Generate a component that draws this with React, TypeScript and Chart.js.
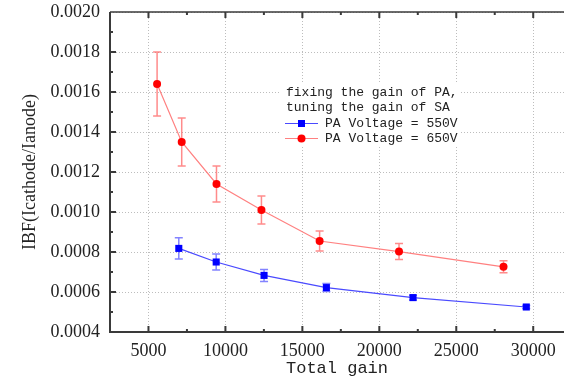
import React, { useEffect, useRef } from 'react';
import { Chart, registerables } from 'chart.js';

Chart.register(...registerables);

// ---- data ----
const blueGain = [6970, 9400, 12510, 16560, 22190, 29550];
const blueIBF = [0.000818, 0.00075, 0.000683, 0.000622, 0.000572, 0.000525];
const blueErr = [0.000053, 0.00004, 0.00003, 0.00002, 0.000012, 0.000008];

const redGain = [5560, 7160, 9420, 12340, 16120, 21280, 28070];
const redIBF = [0.00164, 0.00135, 0.00114, 0.00101, 0.000855, 0.000802, 0.000726];
const redErr = [0.00016, 0.00012, 0.00009, 0.00007, 0.00005, 0.00004, 0.00003];

const xTicks = [5000, 10000, 15000, 20000, 25000, 30000];
const xMinor = [2500, 7500, 12500, 17500, 22500, 27500];
const yTicks = [0.0004, 0.0006, 0.0008, 0.001, 0.0012, 0.0014, 0.0016, 0.0018, 0.002];
const yMinor = [0.0005, 0.0007, 0.0009, 0.0011, 0.0013, 0.0015, 0.0017, 0.0019];

const legendTitle = ['fixing the gain of PA,', 'tuning the gain of SA'];
const seriesNames = ['PA Voltage = 550V', 'PA Voltage = 650V'];
const xTitle = 'Total gain';
const yTitle = 'IBF(Icathode/Ianode)';

const BLUE = '#0000ff';
const BLUE_LINE = '#4a4aff';
const BLUE_ERR = 'rgba(90,90,255,0.75)';
const RED = '#ff0000';
const RED_LINE = '#ff8080';
const RED_ERR = 'rgba(255,90,90,0.7)';
const MONO = '"Liberation Mono", monospace';
const SERIF = '"Liberation Serif", serif';

const gridPlugin = {
  id: 'gridErr',
  beforeDatasetsDraw(chart: any) {
    const { ctx, chartArea: a, scales } = chart;
    const x = scales.x;
    const y = scales.y;
    ctx.save();
    ctx.strokeStyle = '#bdbdbd';
    ctx.lineWidth = 1;
    ctx.setLineDash([1, 2]);
    // keep grid out of the legend box
    ctx.beginPath();
    ctx.rect(0, 0, chart.width, chart.height);
    ctx.rect(461, 82, -181, 64);
    ctx.clip('evenodd');
    for (const v of xTicks) {
      const px = Math.round(x.getPixelForValue(v)) + 0.5;
      ctx.beginPath();
      ctx.moveTo(px, a.top);
      ctx.lineTo(px, a.bottom);
      ctx.stroke();
    }
    for (const v of yTicks) {
      const py = Math.round(y.getPixelForValue(v)) + 0.5;
      ctx.beginPath();
      ctx.moveTo(a.left, py);
      ctx.lineTo(a.right, py);
      ctx.stroke();
    }
    ctx.restore();

    // error bars
    const sets = [
      { g: blueGain, v: blueIBF, e: blueErr, c: BLUE_ERR },
      { g: redGain, v: redIBF, e: redErr, c: RED_ERR },
    ];
    ctx.save();
    ctx.lineWidth = 1.5;
    for (const s of sets) {
      ctx.strokeStyle = s.c;
      for (let i = 0; i < s.g.length; i++) {
        const px = x.getPixelForValue(s.g[i]);
        const t = y.getPixelForValue(s.v[i] + s.e[i]);
        const b = y.getPixelForValue(s.v[i] - s.e[i]);
        ctx.beginPath();
        ctx.moveTo(px, t);
        ctx.lineTo(px, b);
        ctx.moveTo(px - 4, t);
        ctx.lineTo(px + 4, t);
        ctx.moveTo(px - 4, b);
        ctx.lineTo(px + 4, b);
        ctx.stroke();
      }
    }
    ctx.restore();
  },
  afterDraw(chart: any) {
    const { ctx, chartArea: a, scales } = chart;
    const x = scales.x;
    const y = scales.y;
    ctx.save();
    ctx.strokeStyle = '#3a3a3a';
    ctx.lineWidth = 2;
    ctx.beginPath();
    ctx.moveTo(a.left, a.top);
    ctx.lineTo(a.left, a.bottom);
    ctx.lineTo(a.right, a.bottom);
    ctx.stroke();
    ctx.lineWidth = 1.5;
    ctx.beginPath();
    ctx.moveTo(a.left, a.top);
    ctx.lineTo(a.right, a.top);
    ctx.stroke();
    ctx.lineWidth = 2;
    const tick = (vals: number[], len: number) => {
      for (const v of vals) {
        const px = x.getPixelForValue(v);
        if (px <= a.left + 1 || px >= a.right) continue;
        ctx.beginPath();
        ctx.moveTo(px, a.bottom);
        ctx.lineTo(px, a.bottom - len);
        ctx.moveTo(px, a.top);
        ctx.lineTo(px, a.top + len);
        ctx.stroke();
      }
    };
    tick(xTicks, 6);
    tick(xMinor, 3);
    const ytick = (vals: number[], len: number) => {
      for (const v of vals) {
        const py = y.getPixelForValue(v);
        if (py >= a.bottom - 1 || py <= a.top + 1) continue;
        ctx.beginPath();
        ctx.moveTo(a.left, py);
        ctx.lineTo(a.left + len, py);
        ctx.stroke();
      }
    };
    ytick(yTicks, 6);
    ytick(yMinor, 3);
    ctx.restore();

    // legend
    ctx.save();
    ctx.fillStyle = '#ffffff';
    ctx.fillRect(280, 82, 181, 64);
    ctx.fillStyle = '#222';
    ctx.font = '13px ' + MONO;
    ctx.textBaseline = 'middle';
    ctx.textAlign = 'left';
    ctx.fillText(legendTitle[0], 286, 93);
    ctx.fillText(legendTitle[1], 286, 108);
    const rows = [
      { yy: 123, line: BLUE_LINE, c: BLUE, shape: 'rect' },
      { yy: 138, line: RED_LINE, c: RED, shape: 'circle' },
    ];
    rows.forEach((r, i) => {
      ctx.strokeStyle = r.line;
      ctx.lineWidth = 1;
      ctx.beginPath();
      ctx.moveTo(285, r.yy + 0.5);
      ctx.lineTo(318, r.yy + 0.5);
      ctx.stroke();
      ctx.fillStyle = r.c;
      if (r.shape === 'rect') {
        ctx.fillRect(298, r.yy - 3, 7, 7);
      } else {
        ctx.beginPath();
        ctx.arc(301.5, r.yy + 0.5, 4, 0, Math.PI * 2);
        ctx.fill();
      }
      ctx.fillStyle = '#222';
      ctx.fillText(seriesNames[i], 325, r.yy + 1);
    });
    ctx.restore();
  },
};

export default function App() {
  const ref = useRef<HTMLCanvasElement | null>(null);
  useEffect(() => {
    if (!ref.current) return;
    const chart = new Chart(ref.current, {
      type: 'scatter',
      data: {
        datasets: [
          {
            label: seriesNames[0],
            data: blueGain.map((g, i) => ({ x: g, y: blueIBF[i] })),
            showLine: true,
            borderColor: BLUE_LINE,
            borderWidth: 1.2,
            backgroundColor: BLUE,
            pointBackgroundColor: BLUE,
            pointBorderWidth: 0,
            pointStyle: 'rect',
            pointRadius: 5,
          },
          {
            label: seriesNames[1],
            data: redGain.map((g, i) => ({ x: g, y: redIBF[i] })),
            showLine: true,
            borderColor: RED_LINE,
            borderWidth: 1.2,
            backgroundColor: RED,
            pointBackgroundColor: RED,
            pointBorderWidth: 0,
            pointStyle: 'circle',
            pointRadius: 4,
          },
        ],
      },
      options: {
        animation: false,
        responsive: false,
        layout: { autoPadding: false, padding: { top: 12, left: 0, right: 0, bottom: 0 } },
        plugins: { legend: { display: false }, tooltip: { enabled: false } },
        scales: {
          x: {
            type: 'linear',
            min: 2500,
            max: 32000,
            grid: { display: false, drawTicks: false },
            border: { display: false },
            afterBuildTicks: (s: any) => {
              s.ticks = xTicks.map((v) => ({ value: v }));
            },
            afterFit: (s: any) => {
              s.height = 49;
              s.paddingLeft = 0;
              s.paddingRight = 0;
            },
            ticks: {
              padding: 8,
              color: '#222',
              font: { family: SERIF, size: 18 },
              maxRotation: 0,
              callback: (v: any) => String(v),
            },
            title: {
              display: true,
              text: xTitle,
              color: '#222',
              font: { family: MONO, size: 17 },
              padding: { top: 0, bottom: 2 },
            },
          },
          y: {
            type: 'linear',
            min: 0.0004,
            max: 0.002,
            grid: { display: false, drawTicks: false },
            border: { display: false },
            afterBuildTicks: (s: any) => {
              s.ticks = yTicks.map((v) => ({ value: v }));
            },
            afterFit: (s: any) => {
              s.width = 110;
              s.paddingTop = 0;
              s.paddingBottom = 0;
            },
            ticks: {
              padding: 10,
              color: '#222',
              font: { family: SERIF, size: 18 },
              callback: (v: any) => Number(v).toFixed(4),
            },
            title: {
              display: true,
              text: yTitle,
              color: '#222',
              font: { family: SERIF, size: 18 },
              padding: { top: 19, bottom: 0 },
            },
          },
        },
      },
      plugins: [gridPlugin],
    });
    return () => chart.destroy();
  }, []);
  return (
    <div style={{ position: 'absolute', left: 0, top: 0, width: 564, height: 381 }}>
      <canvas ref={ref} width={564} height={381} style={{ width: 564, height: 381, display: 'block' }} />
    </div>
  );
}
